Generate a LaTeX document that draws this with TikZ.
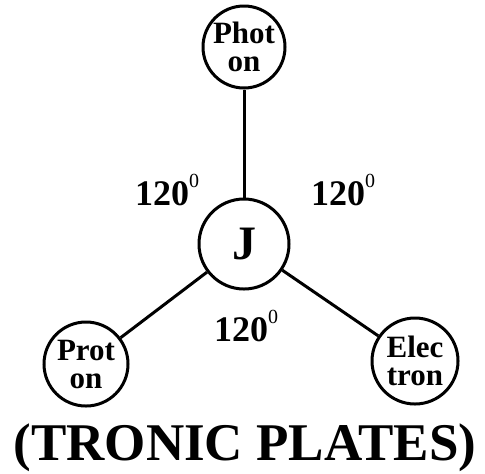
\documentclass[tikz,border=0pt]{standalone}
\usepackage{fontspec}
\setmainfont{Liberation Serif}
\newcommand{\degz}{\raisebox{1.05ex}{\mdseries\fontsize{10}{10}\selectfont 0}}
\begin{document}
\begin{tikzpicture}[x=0.5pt,y=-0.5pt,
    particle/.style={circle, draw, line width=1.5pt, inner sep=0pt, align=center,
        font=\bfseries\fontsize{15.5}{14}\selectfont},
    angle/.style={font=\bfseries\fontsize{18}{20}\selectfont},
    link/.style={line width=1.5pt}]

    \useasboundingbox (0,0) rectangle (485,473);

    % 1. Os circulos (particulas)
    \node[particle, minimum size=41pt] (photon) at (244,47) {Phot\\on};
    \node[particle, minimum size=45pt, font=\bfseries\fontsize{24}{24}\selectfont] (j) at (244,244) {J};
    \node[particle, minimum size=42pt] (proton) at (86,364) {Prot\\on};
    \node[particle, minimum size=43pt] (electron) at (415,361) {Elec\\tron};

    % 2. Ligacoes
    \draw[link] (photon) -- (j);
    \draw[link] (j) -- (proton);
    \draw[link] (j) -- (electron);

    % 3. Angulos
    \node[angle] (a1) at (167,190) {120\degz};
    \node[angle] (a2) at (343,190) {120\degz};
    \node[angle] (a3) at (246,326) {120\degz};

    % 4. Titulo
    \node[font=\bfseries\fontsize{26.5}{30}\selectfont] (title) at (245,448) {(TRONIC PLATES)};

\end{tikzpicture}
\end{document}
